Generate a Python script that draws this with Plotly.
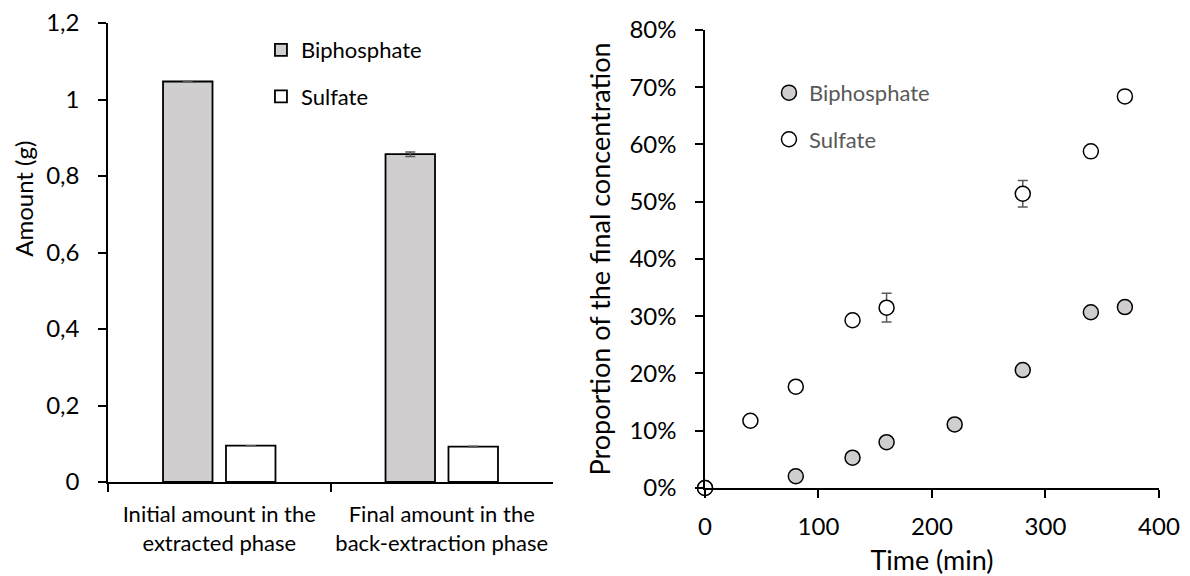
import plotly.graph_objects as go

# ---- Left chart data (bar) ----
bar_categories = ["Initial amount in the<br>extracted phase", "Final amount in the<br>back-extraction phase"]
biphosphate_amount = [1.047, 0.857]
biphosphate_amount_err = [None, 0.006]
sulfate_amount = [0.095, 0.0925]
sulfate_amount_err = [None, 0.001]
left_tickvals = [0, 0.2, 0.4, 0.6, 0.8, 1.0, 1.2]
left_ticktext = ["0", "0,2", "0,4", "0,6", "0,8", "1", "1,2"]

# ---- Right chart data (scatter) ----
time_biphosphate = [0, 80, 130, 160, 220, 280, 340, 370]
prop_biphosphate = [0.0, 0.0205, 0.053, 0.080, 0.111, 0.206, 0.307, 0.316]
time_sulfate = [0, 40, 80, 130, 160, 280, 340, 370]
prop_sulfate = [0.0, 0.1175, 0.177, 0.293, 0.315, 0.514, 0.588, 0.684]
prop_sulfate_err = [None, None, None, 0.01, 0.025, 0.023, None, None]

FONT = "Lato"
GRAY_FILL = "#D0CECE"
ERR_COLOR = "#595959"

fig = go.Figure()

fig.add_trace(go.Bar(
    x=bar_categories, y=biphosphate_amount, name="Biphosphate",
    marker=dict(color=GRAY_FILL, line=dict(color="black", width=1.8)),
    error_y=dict(type="data", array=biphosphate_amount_err, color=ERR_COLOR, thickness=1.5, width=5),
    xaxis="x", yaxis="y", legend="legend", legendgroup="b1",
))
fig.add_trace(go.Bar(
    x=bar_categories, y=sulfate_amount, name="Sulfate",
    marker=dict(color="white", line=dict(color="black", width=1.8)),
    error_y=dict(type="data", array=sulfate_amount_err, color=ERR_COLOR, thickness=1.5, width=5),
    xaxis="x", yaxis="y", legend="legend", legendgroup="s1",
))

fig.add_trace(go.Scatter(
    x=time_biphosphate, y=prop_biphosphate, mode="markers", name="Biphosphate",
    marker=dict(size=15, color=GRAY_FILL, line=dict(color="black", width=1.5)),
    cliponaxis=False, xaxis="x2", yaxis="y2", legend="legend2", legendgroup="b2",
))
fig.add_trace(go.Scatter(
    x=time_sulfate, y=prop_sulfate, mode="markers", name="Sulfate",
    marker=dict(size=15, color="white", line=dict(color="black", width=1.5)),
    error_y=dict(type="data", array=prop_sulfate_err, color=ERR_COLOR, thickness=1.5, width=5),
    cliponaxis=False, xaxis="x2", yaxis="y2", legend="legend2", legendgroup="s2",
))

axis_common = dict(showline=True, linecolor="black", linewidth=1.5, ticks="outside",
                   tickcolor="black", tickwidth=1.5, ticklen=8, showgrid=False, zeroline=False,
                   automargin=False, ticklabeloverflow="allow")

# The page body adds an 8px offset, so the figure is 8px smaller and margins shifted accordingly.
fig.update_layout(
    width=1182, height=568,
    margin=dict(l=100, r=30, t=15, b=88),
    paper_bgcolor="white", plot_bgcolor="white",
    font=dict(family=FONT, color="black"),
    barmode="group", bargap=0.434, bargroupgap=0.214,
    xaxis=dict(domain=[0, 0.423], type="category", tickson="boundaries",
               tickfont=dict(size=22), ticklabelstandoff=12, **axis_common),
    yaxis=dict(domain=[0.0129, 1.0], range=[0, 1.2], tickvals=left_tickvals, ticktext=left_ticktext,
               tickfont=dict(size=24), ticklabelstandoff=14, **axis_common),
    xaxis2=dict(domain=[0.5675, 0.999], range=[0, 400], dtick=100, anchor="y2",
                tickfont=dict(size=24), ticklabelstandoff=8,
                title=dict(text="Time (min)", font=dict(size=27), standoff=16), **axis_common),
    yaxis2=dict(domain=[0.0, 0.985], range=[0, 0.8], dtick=0.1, tickformat=".0%", anchor="x2",
                tickfont=dict(size=24), ticklabelstandoff=14,
                title=dict(text="Proportion of the final concentration", font=dict(size=27), standoff=11),
                **axis_common),
    legend=dict(x=0.1454, y=0.987, xanchor="left", yanchor="top", bgcolor="rgba(0,0,0,0)",
                font=dict(size=22, color="black"), traceorder="grouped", tracegroupgap=15),
    legend2=dict(x=0.6283, y=0.895, xanchor="left", yanchor="top", bgcolor="rgba(0,0,0,0)",
                 font=dict(size=22, color="#595959"), traceorder="grouped", tracegroupgap=15,
                 itemsizing="trace"),
    annotations=[dict(text="Amount (g)", textangle=-90, font=dict(size=24, color="black"),
                      xref="paper", yref="paper", x=-0.0810, y=0.6215,
                      xanchor="center", yanchor="middle", showarrow=False)],
)

fig.write_html("out.html")
